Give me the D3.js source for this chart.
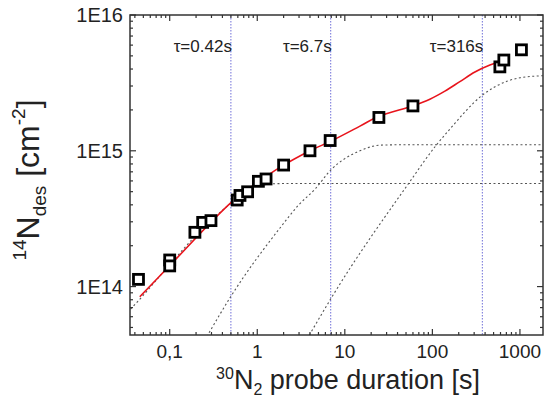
<!DOCTYPE html>
<html>
<head>
<meta charset="utf-8">
<title>N desorption</title>
<script src="https://cdn.jsdelivr.net/npm/d3@7"></script>
<style>
  body { margin: 0; background: #fff; }
  text { font-family: Arial, "Liberation Sans", sans-serif; fill: #222; }
</style>
</head>
<body>
<script>
// measured points (probe duration in s, N in cm^-2)
var durations = [0.044, 0.1, 0.1, 0.194, 0.238, 0.296, 0.59, 0.635, 0.776, 1.03, 1.26, 2.0, 4.0, 6.8, 24.5, 60, 590, 655, 1040];
var nDes = [1.13e14, 1.57e14, 1.42e14, 2.51e14, 2.97e14, 3.06e14, 4.34e14, 4.69e14, 4.99e14, 5.96e14, 6.2e14, 7.85e14, 1.0e15, 1.19e15, 1.76e15, 2.14e15, 4.15e15, 4.66e15, 5.54e15];

// fitted sum (red)
var fitT = [0.0455, 0.0957, 0.505, 1.02, 1.816, 4.0, 7.07, 14.9, 24.1, 60.4, 93.6, 139, 206, 306, 454, 590];
var fitN = [8.41e13, 1.385e14, 4.17e14, 5.88e14, 7.55e14, 1.0e15, 1.185e15, 1.52e15, 1.79e15, 2.15e15, 2.4e15, 2.75e15, 3.23e15, 3.8e15, 4.28e15, 4.52e15];

// three components (dashed)
var comp1T = [0.0357, 0.0435, 0.1007, 0.222, 0.488, 0.724, 0.9, 1.15, 1.6, 2.5, 1828];
var comp1N = [6.83e13, 7.82e13, 1.46e14, 2.56e14, 4.05e14, 4.9e14, 5.35e14, 5.6e14, 5.72e14, 5.75e14, 5.75e14];
var comp2T = [0.25, 0.505, 1.9, 2.915, 4.56, 7.07, 10, 14.9, 25.1, 42.6, 1828];
var comp2N = [4.0e13, 8.56e13, 2.8e14, 3.94e14, 5.22e14, 7.33e14, 8.76e14, 1.0e15, 1.1e15, 1.107e15, 1.107e15];
var comp3T = [3.7, 7.07, 52.9, 111.6, 158.5, 364.6, 728, 1000, 1828];
var comp3N = [4.1e13, 8.32e13, 5.69e14, 1.107e15, 1.445e15, 2.54e15, 3.27e15, 3.45e15, 3.57e15];

// time constants
var tauLines = [0.5, 6.9, 372];
var tauLabels = ["τ=0.42s", "τ=6.7s", "τ=316s"];

var xTicks = [0.1, 1, 10, 100, 1000];
var xTickLabels = ["0,1", "1", "10", "100", "1000"];
var yTicks = [1e14, 1e15, 1e16];
var yTickLabels = ["1E14", "1E15", "1E16"];

var W = 551, H = 405;
var L = 130, R = 543, T = 15, B = 335;

var svg = d3.select("body").append("svg")
    .attr("width", W)
    .attr("height", H);

var x = d3.scaleLog().domain([0.0352, 1834]).range([L, R]);
var y = d3.scaleLog().domain([4.4e13, 1e16]).range([B, T]);

svg.append("clipPath").attr("id", "clip")
  .append("rect").attr("x", L).attr("y", T).attr("width", R - L).attr("height", B - T);

var plot = svg.append("g").attr("clip-path", "url(#clip)");

// tau lines
plot.selectAll(".tau").data(tauLines).enter().append("line")
    .attr("x1", function(d) { return x(d); })
    .attr("x2", function(d) { return x(d); })
    .attr("y1", T).attr("y2", B)
    .attr("stroke", "#6f6fd8")
    .attr("stroke-width", 1)
    .attr("stroke-dasharray", "1.5,1.5");

function pts(ts, ns) {
    return ts.map(function(t, i) { return [x(t), y(ns[i])]; });
}
var line = d3.line().curve(d3.curveMonotoneX);
var smooth = d3.line().curve(d3.curveCatmullRom.alpha(0.5));

[[comp1T, comp1N], [comp2T, comp2N], [comp3T, comp3N]].forEach(function(c) {
    plot.append("path")
        .attr("d", line(pts(c[0], c[1])))
        .attr("fill", "none")
        .attr("stroke", "#555")
        .attr("stroke-width", 1.1)
        .attr("stroke-dasharray", "2,2.5");
});

plot.append("path")
    .attr("d", smooth(pts(fitT, fitN)))
    .attr("fill", "none")
    .attr("stroke", "#e8141c")
    .attr("stroke-width", 1.6);

// data squares
plot.selectAll(".pt").data(durations).enter().append("rect")
    .attr("x", function(d) { return x(d) - 5; })
    .attr("y", function(d, i) { return y(nDes[i]) - 5; })
    .attr("width", 10).attr("height", 10)
    .attr("fill", "#fff")
    .attr("stroke", "#000")
    .attr("stroke-width", 2.8);

// tau labels
svg.selectAll(".taulab").data(tauLines).enter().append("text")
    .attr("x", function(d) { return x(d) + 1; })
    .attr("y", 52)
    .attr("text-anchor", "end")
    .style("font-size", "17px")
    .text(function(d, i) { return tauLabels[i]; });

// frame
svg.append("rect")
    .attr("x", L).attr("y", T).attr("width", R - L).attr("height", B - T)
    .attr("fill", "none").attr("stroke", "#333").attr("stroke-width", 1.5);

// ticks, pointing inward on all four sides
function minorTicks(lo, hi) {
    var out = [];
    for (var e = Math.floor(Math.log10(lo)); e <= Math.ceil(Math.log10(hi)); e++) {
        for (var k = 2; k < 10; k++) {
            var v = k * Math.pow(10, e);
            if (v > lo && v < hi) out.push(v);
        }
    }
    return out;
}
var xd = x.domain(), yd = y.domain();
var tk = svg.append("g").attr("stroke", "#333").attr("stroke-width", 1.2);

xTicks.forEach(function(v) {
    tk.append("line").attr("x1", x(v)).attr("x2", x(v)).attr("y1", B).attr("y2", B - 6);
    tk.append("line").attr("x1", x(v)).attr("x2", x(v)).attr("y1", T).attr("y2", T + 6);
});
minorTicks(xd[0], xd[1]).forEach(function(v) {
    tk.append("line").attr("x1", x(v)).attr("x2", x(v)).attr("y1", B).attr("y2", B - 3);
    tk.append("line").attr("x1", x(v)).attr("x2", x(v)).attr("y1", T).attr("y2", T + 3);
});
yTicks.forEach(function(v) {
    tk.append("line").attr("y1", y(v)).attr("y2", y(v)).attr("x1", L).attr("x2", L + 6);
    tk.append("line").attr("y1", y(v)).attr("y2", y(v)).attr("x1", R).attr("x2", R - 6);
});
minorTicks(yd[0], yd[1]).forEach(function(v) {
    tk.append("line").attr("y1", y(v)).attr("y2", y(v)).attr("x1", L).attr("x2", L + 3);
    tk.append("line").attr("y1", y(v)).attr("y2", y(v)).attr("x1", R).attr("x2", R - 3);
});

// tick labels
svg.selectAll(".xl").data(xTicks).enter().append("text")
    .attr("x", function(d) { return x(d); })
    .attr("y", 358)
    .attr("text-anchor", "middle")
    .style("font-size", "19px")
    .text(function(d, i) { return xTickLabels[i]; });

svg.selectAll(".yl").data(yTicks).enter().append("text")
    .attr("x", 123)
    .attr("y", function(d) { return y(d) + 7; })
    .attr("text-anchor", "end")
    .style("font-size", "20px")
    .text(function(d, i) { return yTickLabels[i]; });

// axis titles
var xt = svg.append("text")
    .attr("x", 348).attr("y", 389)
    .attr("text-anchor", "middle")
    .style("font-size", "27px");
xt.append("tspan").attr("dy", -10).style("font-size", "16px").text("30");
xt.append("tspan").attr("dy", 10).text("N");
xt.append("tspan").attr("dy", 6).style("font-size", "16px").text("2");
xt.append("tspan").attr("dy", -6).text(" probe duration [s]");

var yt = svg.append("text")
    .attr("transform", "translate(39,180) rotate(-90)")
    .attr("text-anchor", "middle")
    .style("font-size", "32px");
yt.append("tspan").attr("dy", -13).style("font-size", "19px").text("14");
yt.append("tspan").attr("dy", 13).text("N");
yt.append("tspan").attr("dy", 7).style("font-size", "19px").text("des");
yt.append("tspan").attr("dy", -7).text(" [cm");
yt.append("tspan").attr("dy", -14).style("font-size", "19px").text("-2");
yt.append("tspan").attr("dy", 14).text("]");
</script>
</body>
</html>
